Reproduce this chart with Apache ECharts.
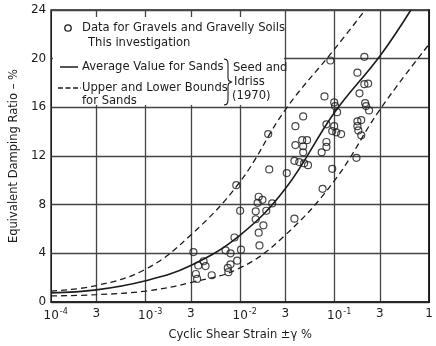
<!DOCTYPE html>
<html>
<head>
<meta charset="utf-8">
<script src="https://cdn.jsdelivr.net/npm/echarts@6/dist/echarts.min.js"></script>
<style>
  html, body { margin: 0; padding: 0; background: #fff; }
  #chart { width: 436px; height: 346px; }
</style>
</head>
<body>
<div id="chart"></div>
<script>
// Strain axis ticks (percent) and their printed labels
const strainTicks = [1e-4, 3e-4, 1e-3, 3e-3, 1e-2, 3e-2, 1e-1, 3e-1, 1];
const strainTickLabels = ['10^-4', '3', '10^-3', '3', '10^-2', '3', '10^-1', '3', '1'];

// Gravel test results: cyclic shear strain (%) and damping ratio (%)
const gravelStrain = [
  0.0032, 0.0036, 0.0041, 0.0043, 0.0034, 0.0035, 0.0050,
  0.0070, 0.0079, 0.0102, 0.0087, 0.0093, 0.0079, 0.0074, 0.0075,
  0.0091, 0.0100, 0.0157, 0.0172, 0.0153, 0.0218, 0.0146, 0.0189,
  0.0146, 0.0176, 0.0157, 0.0160, 0.0198, 0.0203, 0.0311, 0.0375,
  0.0464, 0.0384, 0.0384, 0.0453, 0.0510, 0.0464, 0.0464, 0.0375,
  0.0422, 0.0475, 0.0522,
  0.078, 0.0988, 0.101, 0.106, 0.0818, 0.0988, 0.0942, 0.104, 0.117,
  0.0818, 0.0818, 0.0728, 0.0942, 0.090, 0.0745,
  0.206, 0.174, 0.206, 0.226, 0.183, 0.210, 0.215, 0.231,
  0.174, 0.191, 0.174, 0.178, 0.191, 0.170
];
const gravelDamping = [
  4.1, 3.0, 3.35, 2.95, 2.3, 1.9, 2.2,
  4.25, 4.0, 4.3, 5.3, 3.4, 3.1, 2.8, 2.45,
  9.6, 7.5, 8.65, 8.4, 8.15, 8.1, 7.45, 7.5,
  6.8, 6.3, 5.7, 4.65, 13.8, 10.9, 10.6, 6.85,
  15.25, 14.45, 12.9, 13.3, 13.3, 12.8, 12.3, 11.6,
  11.5, 11.4, 11.25,
  16.9, 16.4, 16.1, 15.6, 14.6, 14.45, 14.05, 13.95, 13.8,
  13.15, 12.75, 12.3, 10.95, 19.85, 9.3,
  20.15, 18.85, 17.9, 17.95, 17.15, 16.35, 16.1, 15.75,
  14.85, 14.95, 14.45, 14.1, 13.7, 11.85
];

// Seed and Idriss (1970) curves for sands
const avgStrain = [1e-4, 3e-4, 1e-3, 3e-3, 1e-2, 3e-2, 1e-1, 3e-1, 0.64];
const avgDamping = [0.75, 1.0, 1.75, 3.0, 5.5, 9.3, 15.6, 20.2, 24];
const upperStrain = [1e-4, 3e-4, 1e-3, 3e-3, 1e-2, 3e-2, 1e-1, 0.21];
const upperDamping = [0.9, 1.35, 2.7, 5.5, 9.9, 15.8, 20.8, 24];
const lowerStrain = [1e-4, 3e-4, 1e-3, 3e-3, 1e-2, 3e-2, 1e-1, 3e-1, 1];
const lowerDamping = [0.5, 0.6, 0.9, 1.6, 2.8, 5.5, 10.0, 15.8, 21.2];

const lg = Math.log10;
const pairs = (xs, ys) => xs.map((x, i) => [lg(x), ys[i]]);
const tickPos = strainTicks.map(lg);

const INK = '#1c1c1c';
const GRIDC = '#444';
const FONT = 'DejaVu Sans';

function strainLabel(v) {
  const i = tickPos.findIndex(t => Math.abs(t - v) < 1e-6);
  if (i < 0) return '';
  const s = strainTickLabels[i];
  if (s.indexOf('^') >= 0) {
    const [b, e] = s.split('^');
    return '{p|}{b|' + b + '}{s|' + e + '}';
  }
  return '{b|' + s + '}';
}

const chart = echarts.init(document.getElementById('chart'), null, { renderer: 'canvas' });

const legendText = (x, y, t) => ({
  type: 'text', z: 5, x: x, y: y,
  style: { text: t, fill: INK, font: '11.6px "' + FONT + '"', textVerticalAlign: 'middle', textAlign: 'left' }
});

chart.setOption({
  animation: false,
  backgroundColor: '#fff',
  grid: {
    left: 43, right: 3, top: 10, bottom: 42,
    show: true, borderColor: INK, borderWidth: 1.7, backgroundColor: 'transparent'
  },
  xAxis: {
    type: 'value', min: -4, max: 0,
    name: 'Cyclic Shear Strain \u00b1\u03b3 %',
    nameLocation: 'middle', nameGap: 27,
    nameTextStyle: { color: INK, fontFamily: FONT, fontSize: 11.5 },
    axisLine: { show: true, lineStyle: { color: INK, width: 1.7 } },
    axisTick: { show: false, customValues: tickPos },
    splitLine: { show: false },
    axisLabel: {
      customValues: tickPos,
      margin: 6,
      formatter: strainLabel,
      rich: {
        p: { width: 9, fontSize: 12 },
        b: { color: INK, fontFamily: FONT, fontSize: 12 },
        s: { color: INK, fontFamily: FONT, fontSize: 8, padding: [0, 0, 7, 1] }
      }
    }
  },
  yAxis: {
    type: 'value', min: 0, max: 24, interval: 4,
    name: 'Equivalent Damping Ratio \u2013 %',
    nameLocation: 'middle', nameGap: 28,
    nameTextStyle: { color: INK, fontFamily: FONT, fontSize: 11.5 },
    axisLine: { show: true, lineStyle: { color: INK, width: 1.7 } },
    axisTick: { show: false },
    splitLine: { show: true, lineStyle: { color: GRIDC, width: 1.3 } },
    axisLabel: { color: INK, fontFamily: FONT, fontSize: 12, margin: 5 }
  },
  graphic: [
    // panel behind the key that hides the grid lines
    { type: 'rect', z: 1, shape: { x: 53, y: 17, width: 231, height: 88 }, style: { fill: '#fff' } },
    { type: 'circle', z: 5, shape: { cx: 68, cy: 28, r: 3.2 }, style: { fill: 'transparent', stroke: INK, lineWidth: 1.3 } },
    legendText(82, 28, 'Data for Gravels and Gravelly Soils'),
    legendText(88, 43, 'This investigation'),
    { type: 'line', z: 5, shape: { x1: 60, y1: 67, x2: 78, y2: 67 }, style: { stroke: INK, lineWidth: 1.5 } },
    legendText(82, 67, 'Average Value for Sands'),
    { type: 'line', z: 5, shape: { x1: 58, y1: 88, x2: 81, y2: 88 }, style: { stroke: INK, lineWidth: 1.3, lineDash: [5, 2.5] } },
    legendText(82, 88, 'Upper and Lower Bounds'),
    legendText(82, 101, 'for Sands'),
    // brace grouping the two sand curves under one citation
    { type: 'polyline', z: 5,
      shape: { points: [[224, 59], [226.5, 59.6], [227.7, 61.5], [228, 64], [228, 78], [228.6, 80.6], [231.5, 82],
                        [228.6, 83.4], [228, 86], [228, 100], [227.7, 102.5], [226.5, 104.4], [224, 105]] },
      style: { fill: 'none', stroke: INK, lineWidth: 1.1 } },
    legendText(233, 68, 'Seed and'),
    legendText(234, 82, 'Idriss'),
    legendText(232, 96, '(1970)')
  ],
  series: [
    {
      // vertical grid lines at each labelled strain
      name: 'strain grid', type: 'line', data: [], z: 0, silent: true,
      markLine: {
        z: 0, silent: true, symbol: 'none', animation: false,
        label: { show: false },
        lineStyle: { color: GRIDC, width: 1.3, type: 'solid' },
        data: tickPos.slice(1, -1).map(v => ({ xAxis: v }))
      }
    },
    {
      name: 'Average Value for Sands', type: 'line', smooth: 0.4, symbol: 'none', z: 3,
      data: pairs(avgStrain, avgDamping),
      lineStyle: { color: INK, width: 1.6 }
    },
    {
      name: 'Upper Bound for Sands', type: 'line', smooth: 0.4, symbol: 'none', z: 3,
      data: pairs(upperStrain, upperDamping),
      lineStyle: { color: INK, width: 1.3, type: [6, 4] }
    },
    {
      name: 'Lower Bound for Sands', type: 'line', smooth: 0.4, symbol: 'none', z: 3,
      data: pairs(lowerStrain, lowerDamping),
      lineStyle: { color: INK, width: 1.3, type: [6, 4] }
    },
    {
      name: 'Data for Gravels and Gravelly Soils', type: 'scatter', z: 4,
      symbol: 'circle', symbolSize: 7,
      data: pairs(gravelStrain, gravelDamping),
      itemStyle: { color: 'transparent', borderColor: INK, borderWidth: 1.2 }
    }
  ]
});
</script>
</body>
</html>
